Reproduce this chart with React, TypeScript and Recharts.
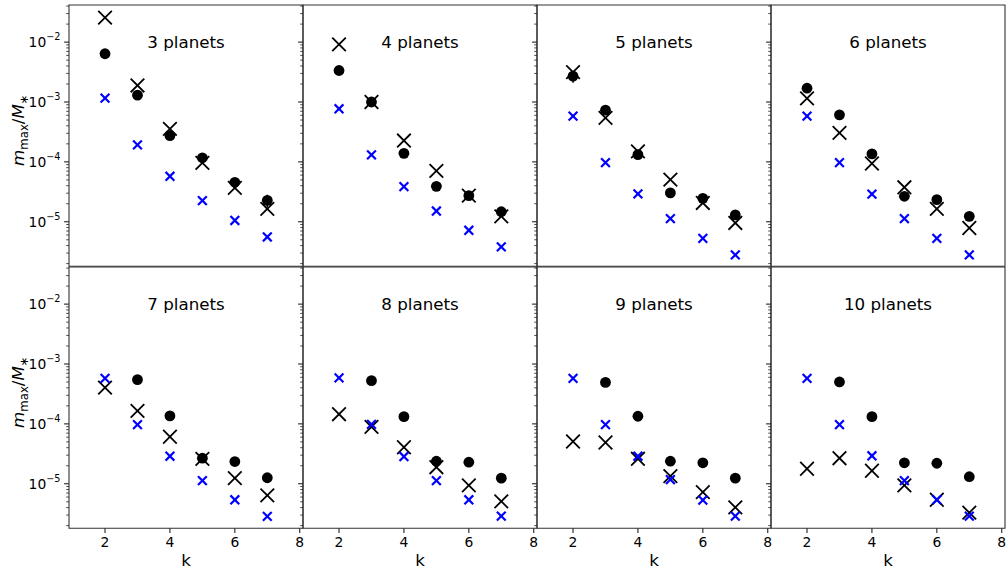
import React from 'react';
import { ScatterChart, Scatter, XAxis, YAxis, ReferenceArea, ErrorBar } from 'recharts';

// ---------- data ----------
const K = [2, 3, 4, 5, 6, 7];
const X_TICKS = [2, 4, 6, 8];
const Y_MAJOR_TICKS = [1e-5, 1e-4, 1e-3, 1e-2];
const Y_MINOR_MULTIPLES = [2, 3, 4, 5, 6, 7, 8, 9];
const X_DOMAIN = [0.89, 8.1];
const Y_DOMAIN = [1.81e-6, 0.0417];

const TITLES = ['3 planets', '4 planets', '5 planets', '6 planets', '7 planets', '8 planets', '9 planets', '10 planets'];

const P3_CIRCLE = [6.4e-3, 1.3e-3, 2.75e-4, 1.17e-4, 4.56e-5, 2.28e-5];
const P3_CROSS = [2.57e-2, 1.89e-3, 3.56e-4, 9.6e-5, 3.67e-5, 1.64e-5];
const P3_BLUE = [1.16e-3, 1.92e-4, 5.75e-5, 2.25e-5, 1.05e-5, 5.57e-6];
const P3_ERR = [0.8e-3, 0, 0.4e-4, 0, 0, 0.55e-5];

const P4_CIRCLE = [3.36e-3, 1.0e-3, 1.39e-4, 3.9e-5, 2.73e-5, 1.47e-5];
const P4_CROSS = [9.15e-3, 1.0e-3, 2.27e-4, 7.08e-5, 2.73e-5, 1.23e-5];
const P4_BLUE = [7.7e-4, 1.31e-4, 3.86e-5, 1.51e-5, 7.2e-6, 3.8e-6];
const P4_ERR = [0, 0, 0, 0, 0, 0];

const P5_CIRCLE = [2.7e-3, 7.3e-4, 1.32e-4, 3.03e-5, 2.46e-5, 1.3e-5];
const P5_CROSS = [3.15e-3, 5.44e-4, 1.5e-4, 5.06e-5, 2.06e-5, 9.55e-6];
const P5_BLUE = [5.8e-4, 9.7e-5, 2.92e-5, 1.13e-5, 5.27e-6, 2.79e-6];
const P5_ERR = [0.6e-3, 0, 0, 0, 0, 0];

const P6_CIRCLE = [1.7e-3, 6.1e-4, 1.36e-4, 2.66e-5, 2.34e-5, 1.23e-5];
const P6_CROSS = [1.15e-3, 3.05e-4, 9.4e-5, 3.76e-5, 1.64e-5, 7.87e-6];
const P6_BLUE = [5.8e-4, 9.7e-5, 2.9e-5, 1.13e-5, 5.27e-6, 2.79e-6];
const P6_ERR = [0, 0, 0, 0, 0, 0];

const P7_CIRCLE = [null, 5.47e-4, 1.36e-4, 2.67e-5, 2.35e-5, 1.26e-5];
const P7_CROSS = [4.03e-4, 1.65e-4, 6.1e-5, 2.6e-5, 1.24e-5, 6.38e-6];
const P7_BLUE = [5.75e-4, 9.7e-5, 2.88e-5, 1.13e-5, 5.4e-6, 2.85e-6];
const P7_ERR = [0, 0, 0, 0, 0, 0];

const P8_CIRCLE = [null, 5.27e-4, 1.32e-4, 2.38e-5, 2.29e-5, 1.24e-5];
const P8_CROSS = [1.45e-4, 8.9e-5, 4.07e-5, 1.89e-5, 9.37e-6, 5.07e-6];
const P8_BLUE = [5.85e-4, 9.8e-5, 2.85e-5, 1.13e-5, 5.4e-6, 2.88e-6];
const P8_ERR = [0, 0, 0, 0, 0, 0];

const P9_CIRCLE = [null, 4.93e-4, 1.34e-4, 2.38e-5, 2.24e-5, 1.24e-5];
const P9_CROSS = [5.07e-5, 4.88e-5, 2.61e-5, 1.34e-5, 7.24e-6, 4.03e-6];
const P9_BLUE = [5.75e-4, 9.7e-5, 2.88e-5, 1.17e-5, 5.33e-6, 2.88e-6];
const P9_ERR = [0, 0, 0, 0, 0, 0];

const P10_CIRCLE = [null, 5.01e-4, 1.32e-4, 2.24e-5, 2.2e-5, 1.31e-5];
const P10_CROSS = [1.78e-5, 2.67e-5, 1.65e-5, 9.37e-6, 5.4e-6, 3.29e-6];
const P10_BLUE = [5.75e-4, 9.7e-5, 2.93e-5, 1.13e-5, 5.4e-6, 2.88e-6];
const P10_ERR = [0, 0, 0, 0, 0, 0];

const CIRCLES = [P3_CIRCLE, P4_CIRCLE, P5_CIRCLE, P6_CIRCLE, P7_CIRCLE, P8_CIRCLE, P9_CIRCLE, P10_CIRCLE];
const CROSSES = [P3_CROSS, P4_CROSS, P5_CROSS, P6_CROSS, P7_CROSS, P8_CROSS, P9_CROSS, P10_CROSS];
const BLUES = [P3_BLUE, P4_BLUE, P5_BLUE, P6_BLUE, P7_BLUE, P8_BLUE, P9_BLUE, P10_BLUE];
const ERRS = [P3_ERR, P4_ERR, P5_ERR, P6_ERR, P7_ERR, P8_ERR, P9_ERR, P10_ERR];

const Y_TICKS: number[] = [];
[1e-6, 1e-5, 1e-4, 1e-3, 1e-2].forEach((d) => {
  [1, ...Y_MINOR_MULTIPLES].forEach((m) => {
    const v = m * d;
    if (v >= Y_DOMAIN[0] && v <= Y_DOMAIN[1]) Y_TICKS.push(v);
  });
});

// ---------- layout ----------
const FONT = "'DejaVu Sans', Verdana, sans-serif";
const PLOT_LEFT = 69;
const PLOT_TOP = 5.3;
const PLOT_W = 234;
const PLOT_H = 261.2;
const ML = 69;
const MR = 3;
const MT = 5;
const MB = 46;
const MAJOR_LEN = 4.9;
const MINOR_LEN = 2.8;

const isMajor = (v: number) => Y_MAJOR_TICKS.some((m) => Math.abs(v / m - 1) < 1e-6);

const YTick = (props: any) => {
  const { x, y, payload, showLabel } = props;
  const v = payload.value;
  const major = isMajor(v);
  const len = major ? MAJOR_LEN : MINOR_LEN;
  const exp = Math.round(Math.log10(v));
  return (
    <g>
      <line x1={x - len} x2={x} y1={y} y2={y} stroke="#222" strokeWidth={major ? 1.1 : 0.8} />
      {showLabel && major && (
        <text x={x - 8.5} y={y + 5} textAnchor="end" fontFamily={FONT} fontSize={13.9} fill="#000">
          10
          <tspan dy={-7} fontSize={9.7}>{'\u2212' + Math.abs(exp)}</tspan>
        </text>
      )}
    </g>
  );
};

const XTick = (props: any) => {
  const { x, y, payload } = props;
  return (
    <g>
      <line x1={x} x2={x} y1={y} y2={y + MAJOR_LEN} stroke="#222" strokeWidth={1.1} />
      <text x={x} y={y + 18.5} textAnchor="middle" fontFamily={FONT} fontSize={13.9} fill="#000">
        {payload.value}
      </text>
    </g>
  );
};

const CircleShape = (props: any) => {
  const { cx, cy } = props;
  if (cx == null || cy == null) return null;
  return <circle cx={cx} cy={cy} r={5.4} fill="#000" />;
};

const BigCross = (props: any) => {
  const { cx, cy } = props;
  if (cx == null || cy == null) return null;
  const h = 6.8;
  return (
    <g stroke="#000" strokeWidth={1.8}>
      <line x1={cx - h} y1={cy - h} x2={cx + h} y2={cy + h} />
      <line x1={cx - h} y1={cy + h} x2={cx + h} y2={cy - h} />
    </g>
  );
};

const BlueCross = (props: any) => {
  const { cx, cy } = props;
  if (cx == null || cy == null) return null;
  const h = 4.4;
  return (
    <g stroke="#0000ff" strokeWidth={2.2}>
      <line x1={cx - h} y1={cy - h} x2={cx + h} y2={cy + h} />
      <line x1={cx - h} y1={cy + h} x2={cx + h} y2={cy - h} />
    </g>
  );
};

const toData = (vals: (number | null)[], errs?: number[]) =>
  K.map((k, i) => ({ k, v: vals[i], err: errs ? errs[i] : 0 })).filter((d) => d.v != null);

const YLabel = (props: any) => {
  const vb = props.viewBox || { x: 0, y: MT, width: ML, height: PLOT_H };
  const x = vb.x + 24;
  const y = vb.y + vb.height / 2 - 5.5;
  return (
    <text
      x={x}
      y={y}
      transform={`rotate(-90, ${x}, ${y})`}
      textAnchor="middle"
      fontFamily={FONT}
      fontSize={16.7}
      fill="#000"
    >
      <tspan fontStyle="italic">m</tspan>
      <tspan fontSize={11.7} dy={3.5}>max</tspan>
      <tspan dy={-3.5}>/</tspan>
      <tspan fontStyle="italic">M</tspan>
      <tspan fontSize={11.7} dy={3.5}>{'\u2217'}</tspan>
    </text>
  );
};

const KLabel = (props: any) => {
  const vb = props.viewBox || { x: ML, y: MT + PLOT_H, width: PLOT_W, height: MB };
  return (
    <text x={vb.x + vb.width / 2} y={vb.y + 37.5} textAnchor="middle" fontFamily={FONT} fontSize={16.7} fill="#000">
      k
    </text>
  );
};

const makeTitle = (title: string) => (props: any) => {
  const vb = props.viewBox || { x: ML, y: MT, width: PLOT_W, height: PLOT_H };
  return (
    <text x={vb.x + vb.width / 2} y={vb.y + 42.8} textAnchor="middle" fontFamily={FONT} fontSize={16.7} fill="#000">
      {title}
    </text>
  );
};

const Panel = ({ idx }: { idx: number }) => {
  const row = Math.floor(idx / 4);
  const col = idx % 4;
  const left = PLOT_LEFT + col * PLOT_W - ML;
  const top = PLOT_TOP + row * PLOT_H - MT;
  const width = ML + PLOT_W + MR;
  const height = MT + PLOT_H + MB;
  return (
    <div style={{ position: 'absolute', left, top, width, height }}>
      <ScatterChart width={width} height={height} margin={{ top: MT, right: MR, bottom: 0, left: 0 }}>
        <XAxis
          type="number"
          dataKey="k"
          domain={X_DOMAIN}
          ticks={X_TICKS}
          interval={0}
          allowDataOverflow
          axisLine={false}
          tickLine={false}
          tickSize={0}
          tickMargin={0}
          height={MB}
          tick={row === 1 ? (p: any) => <XTick {...p} /> : false}
          label={row === 1 ? { content: KLabel } : undefined}
        />
        <YAxis
          type="number"
          dataKey="v"
          scale="log"
          domain={Y_DOMAIN}
          ticks={Y_TICKS}
          interval={0}
          allowDataOverflow
          axisLine={false}
          tickLine={false}
          tickSize={0}
          tickMargin={0}
          width={ML}
          tick={(p: any) => <YTick {...p} showLabel={col === 0} />}
          label={col === 0 ? { content: YLabel } : undefined}
        />
        <Scatter data={toData(CIRCLES[idx], ERRS[idx])} shape={CircleShape} isAnimationActive={false}>
          <ErrorBar dataKey="err" direction="y" width={0} stroke="#000" strokeWidth={1.5} />
        </Scatter>
        <Scatter data={toData(CROSSES[idx])} shape={BigCross} isAnimationActive={false} />
        <Scatter data={toData(BLUES[idx])} shape={BlueCross} isAnimationActive={false} />
        <ReferenceArea
          x1={X_DOMAIN[0]}
          x2={X_DOMAIN[1]}
          y1={Y_DOMAIN[0]}
          y2={Y_DOMAIN[1]}
          fill="none"
          fillOpacity={0}
          stroke="#333"
          strokeWidth={1.1}
          ifOverflow="visible"
          label={{ content: makeTitle(TITLES[idx]) }}
        />
      </ScatterChart>
    </div>
  );
};

export default function App() {
  return (
    <div style={{ position: 'absolute', left: 0, top: 0, width: 1007, height: 573, background: '#fff' }}>
      {TITLES.map((_, i) => (
        <Panel key={i} idx={i} />
      ))}
    </div>
  );
}
